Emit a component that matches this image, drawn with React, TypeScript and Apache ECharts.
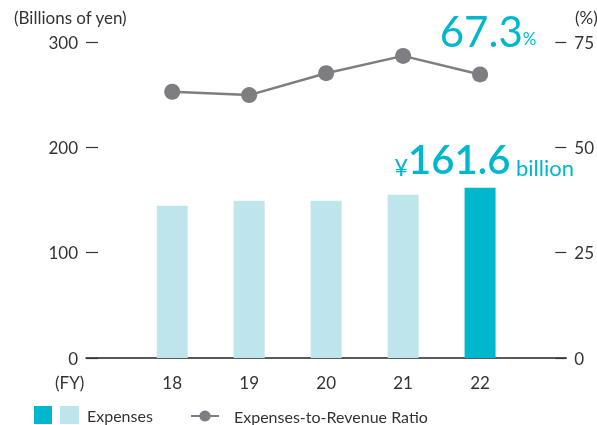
import React, { useEffect, useRef } from "react";
import * as echarts from "echarts";

const fiscalYears = [18, 19, 20, 21, 22];
const expenses = [144.6, 149.3, 149.3, 155.0, 161.6];
const ratio = [63.2, 62.4, 67.6, 71.7, 67.3];
const leftTicks = { min: 0, max: 300, interval: 100 };
const rightTicks = { min: 0, max: 75, interval: 25 };

const DARK = "#00b7cd";
const LIGHT = "#bee4ec";
const GRAY = "#7e7e82";
const TEXT = "#333333";
const FONT = "Lato, 'Noto Sans', sans-serif";

export default function App() {
  const ref = useRef<HTMLDivElement>(null);
  useEffect(() => {
    if (!ref.current) return;
    const chart = echarts.init(ref.current, undefined, { renderer: "svg" });
    const last = fiscalYears.length - 1;
    chart.setOption({
      animation: false,
      textStyle: { fontFamily: FONT },
      grid: { left: 86, right: 28, top: 42, bottom: 67 },
      xAxis: {
        type: "value",
        min: 16.88,
        max: 23.12,
        axisLine: { show: true, lineStyle: { color: "#222", width: 1.5 } },
        axisTick: { show: false },
        splitLine: { show: false },
        axisLabel: {
          customValues: fiscalYears,
          color: TEXT,
          fontSize: 17,
          margin: 16,
          fontFamily: FONT,
          formatter: (v: number) => String(v),
        },
      },
      yAxis: [
        {
          type: "value",
          ...leftTicks,
          axisLine: { show: false },
          axisTick: { show: true, inside: true, length: 12, lineStyle: { color: TEXT, width: 1.2 } },
          splitLine: { show: false },
          axisLabel: { color: TEXT, fontSize: 17, margin: 8, fontFamily: FONT },
        },
        {
          type: "value",
          position: "right",
          ...rightTicks,
          axisLine: { show: false },
          axisTick: { show: true, inside: true, length: 11, lineStyle: { color: TEXT, width: 1.2 } },
          splitLine: { show: false },
          axisLabel: { color: TEXT, fontSize: 17, margin: 8, fontFamily: FONT },
        },
      ],
      legend: [
        {
          left: 34,
          top: 406,
          padding: 0,
          itemWidth: 18,
          itemHeight: 18,
          icon: "rect",
          data: [{ name: "Expenses", itemStyle: { color: DARK } }],
          formatter: "{g|}{sq|}{t|Expenses}",
          textStyle: {
            color: TEXT,
            fontSize: 16,
            fontFamily: FONT,
            rich: {
              g: { width: 3 },
              sq: { width: 19, height: 18, backgroundColor: LIGHT },
              t: { fontSize: 16, color: TEXT, padding: [0, 0, 0, 8], fontFamily: FONT },
            },
          },
        },
        {
          left: 190,
          top: 408,
          padding: 0,
          itemWidth: 28,
          itemHeight: 14,
          data: ["Expenses-to-Revenue Ratio"],
          textStyle: { color: TEXT, fontSize: 16, fontFamily: FONT, padding: [0, 0, 0, 10] },
        },
      ],
      graphic: [
        { type: "text", left: 14, top: 9, style: { text: "(Billions of yen)", fill: TEXT, fontSize: 17, fontFamily: FONT } },
        { type: "text", left: 575, top: 9, style: { text: "(%)", fill: TEXT, fontSize: 17, fontFamily: FONT } },
        { type: "text", left: 55, top: 374, style: { text: "(FY)", fill: TEXT, fontSize: 17, fontFamily: FONT } },
      ],
      series: [
        {
          name: "Expenses",
          type: "bar",
          yAxisIndex: 0,
          barWidth: 31,
          itemStyle: { color: LIGHT },
          data: fiscalYears.map((y, i) =>
            i === last
              ? {
                  value: [y, expenses[i]],
                  itemStyle: { color: DARK },
                  label: {
                    show: true,
                    position: "top",
                    distance: 9,
                    offset: [4, 0],
                    formatter: (p: any) => `{y|¥}{v|${p.value[1]}}{b| billion}`,
                    rich: {
                      y: { fontSize: 24, color: DARK, fontFamily: FONT, verticalAlign: "bottom" },
                      v: { fontSize: 40, color: DARK, fontFamily: FONT, fontWeight: 600, verticalAlign: "bottom" },
                      b: { fontSize: 22, color: DARK, fontFamily: FONT, verticalAlign: "bottom" },
                    },
                  },
                }
              : { value: [y, expenses[i]] }
          ),
        },
        {
          name: "Expenses-to-Revenue Ratio",
          type: "line",
          yAxisIndex: 1,
          symbol: "circle",
          symbolSize: 16,
          lineStyle: { color: GRAY, width: 2.5 },
          itemStyle: { color: GRAY },
          data: fiscalYears.map((y, i) =>
            i === last
              ? {
                  value: [y, ratio[i]],
                  label: {
                    show: true,
                    position: "top",
                    distance: 14,
                    offset: [8, 0],
                    formatter: (p: any) => `{v|${p.value[1]}}{p|%}`,
                    rich: {
                      v: { fontSize: 42, color: DARK, fontFamily: FONT, verticalAlign: "bottom" },
                      p: { fontSize: 17, color: DARK, fontFamily: FONT, verticalAlign: "bottom", padding: [0, 0, 5, 0] },
                    },
                  },
                }
              : { value: [y, ratio[i]] }
          ),
        },
      ],
    });
    return () => chart.dispose();
  }, []);
  return <div ref={ref} style={{ position: "fixed", left: 0, top: 0, width: 597, height: 425 }} />;
}
